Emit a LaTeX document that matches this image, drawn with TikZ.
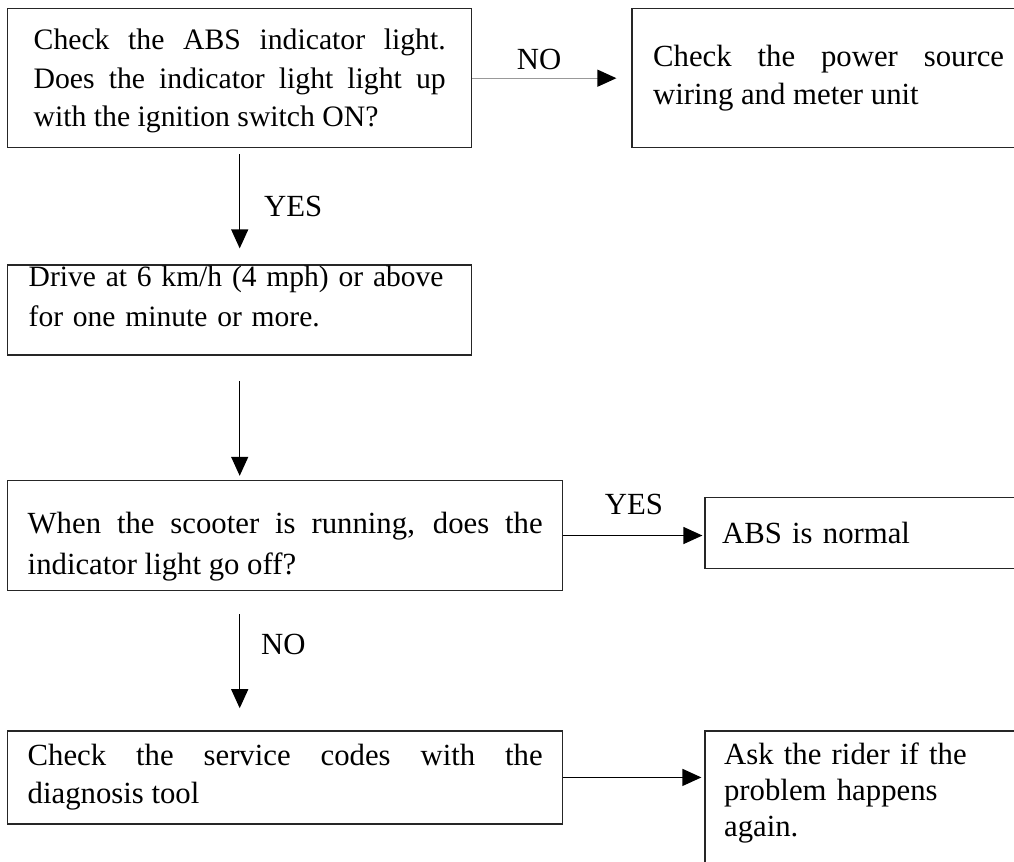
\documentclass[tikz,border=0pt]{standalone}
\usepackage{fontspec}
\setmainfont{Liberation Serif}
\usetikzlibrary{positioning, arrows.meta}

\begin{document}
\begin{tikzpicture}[stepbox/.style={draw=black!85,line width=0.8pt,inner xsep=0.4cm,inner ysep=0pt,align=justify,font=\fontsize{17.5}{21.6}\selectfont},
    flow/.style={line width=0.7pt,-{Triangle[length=0.38cm,width=0.34cm,color=black]}},
    lbl/.style={font=\fontsize{17.5}{21.6}\selectfont}]
        \useasboundingbox (0,0) rectangle (20.28,-17.24);
        \clip (0,0) rectangle (20.28,-17.24);
        \node[stepbox,text width=8.24cm,text height=0.82cm,text depth=1.96cm,inner xsep=0.52cm,font=\fontsize{16.9}{21.9}\selectfont,anchor=north west] (check) at (0.14,-0.16) {Check the ABS indicator light.\linebreak Does the indicator light light up\linebreak with the ignition switch ON?};
        \node[stepbox,right=3.18cm of check,text width=7.02cm,minimum height=2.78cm,inner xsep=0.42cm] (power) {Check the power source\linebreak wiring and meter unit};
        \node[stepbox,below=2.32cm of check,text width=8.44cm,text height=0.42cm,text depth=1.38cm,inner xsep=0.42cm,align=left,font=\fontsize{16.8}{22.8}\selectfont] (drive) {Drive at 6 km/h (4 mph) or above\\ for one minute or more.};
        \node[stepbox,below=2.48cm of drive.south west,anchor=north west,text width=10.3cm,text height=1.06cm,text depth=1.14cm,font=\fontsize{17.5}{23.5}\selectfont] (running) {When the scooter is running, does the\linebreak indicator light go off?};
        \node[stepbox,right=2.82cm of running,yshift=0.05cm,text width=6.5cm,minimum height=1.42cm,align=left,inner xsep=0.34cm] (normal) {ABS is normal};
        \node[stepbox,below=2.78cm of running.south west,anchor=north west,text width=10.3cm,minimum height=1.86cm] (codes) {Check the service codes with the\linebreak diagnosis tool};
        \node[stepbox,right=2.82cm of codes.north east,anchor=north west,text width=6cm,align=left,inner xsep=0.38cm,inner ysep=0.24cm,text depth=3cm,font=\fontsize{17.5}{20.5}\selectfont] (ask) {Ask the rider if the\\ problem happens\\ again.};

        \draw[flow,draw=black!40,shorten >=0.3cm] (check) -- node[lbl,above=1pt,pos=0.42] {NO} (power);
        \draw[flow,shorten <=0.12cm,shorten >=0.32cm] (check) -- node[lbl,right=0.36cm] {YES} (drive);
        \draw[flow,shorten <=0.5cm,shorten >=0.08cm] (drive) -- (drive |- running.north);
        \draw[flow,shorten >=0.04cm] (running) -- node[lbl,above=0.28cm] {YES} (running -| normal.west);
        \draw[flow,shorten <=0.46cm,shorten >=0.44cm] (running.south -| drive.south) -- node[lbl,right=0.3cm,pos=0.38] {NO} (codes.north -| drive.south);
        \draw[flow,shorten >=0.06cm] (codes) -- (codes -| ask.west);
    
    \end{tikzpicture}
\end{document}
